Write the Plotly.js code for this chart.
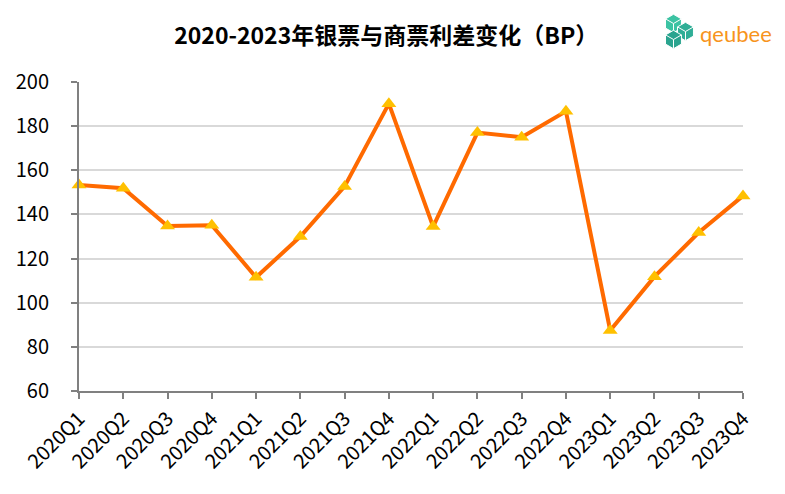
<!DOCTYPE html>
<html>
<head>
<meta charset="utf-8">
<script src="https://cdn.plot.ly/plotly-3.0.1.min.js"></script>
<style>html,body{margin:0;padding:0;background:#fff;}#chart{width:785px;height:494px;}</style>
</head>
<body>
<div id="chart"></div>
<script>
const quarters = ["2020Q1","2020Q2","2020Q3","2020Q4","2021Q1","2021Q2","2021Q3","2021Q4","2022Q1","2022Q2","2022Q3","2022Q4","2023Q1","2023Q2","2023Q3","2023Q4"];
const spreadBP = [153.3,151.9,134.8,135.1,111.5,130.0,152.7,190.2,134.5,177.1,175.0,186.7,87.4,111.8,131.8,148.4];
const yTicks = [60,80,100,120,140,160,180,200];

const W = 785, H = 494, L = 79, R = 743, T = 82, B = 391;
function px(x){ return (x - L) / (R - L); }
function py(y){ return (B - y) / (B - T); }

// decorative logo cubes (pixel space -> paper)
function hexShapes(cx, cy, r, color){
  const pts = [];
  for (let i = 0; i < 6; i++){
    const a = Math.PI/180 * (90 + 60*i);
    pts.push([cx + r*Math.cos(a), cy - r*Math.sin(a)]);
  }
  let d = 'M' + pts.map(p => px(p[0]).toFixed(4) + ',' + py(p[1]).toFixed(4)).join(' L') + ' Z';
  const s = [{type:'path', xref:'paper', yref:'paper', path:d, fillcolor:color, line:{color:'#ffffff', width:1}, layer:'above'}];
  [3,1,5].forEach(k => {
    s.push({type:'line', xref:'paper', yref:'paper', x0:px(cx), y0:py(cy), x1:px(pts[k][0]), y1:py(pts[k][1]), line:{color:'#ffffff', width:1}, layer:'above'});
  });
  return s;
}
const shapes = [].concat(
  hexShapes(673.5, 23.5, 9.2, '#3cc3a3'),
  hexShapes(685.5, 31.5, 9.2, '#2fae96'),
  hexShapes(673.5, 39.5, 9.2, '#2aa48f')
);

const trace = {
  x: quarters,
  y: spreadBP,
  type: 'scatter',
  mode: 'lines+markers',
  line: {color: '#ff6a00', width: 4},
  marker: {symbol: 'triangle-up', size: 13, color: '#ffc000', line: {width: 0}},
  hoverinfo: 'x+y',
  cliponaxis: false
};

const FONT = '"Noto Sans CJK SC", "Noto Sans", sans-serif';
const layout = {
  width: W, height: H,
  margin: {l: L, r: W - R, t: T, b: H - B, pad: 0},
  paper_bgcolor: '#ffffff',
  plot_bgcolor: '#ffffff',
  showlegend: false,
  title: {
    text: '<b>2020-2023年银票与商票利差变化（BP）</b>',
    font: {family: FONT, size: 23, color: '#000000'},
    xref: 'container', x: 0.492, xanchor: 'center',
    yref: 'container', y: 1 - 36/494, yanchor: 'middle'
  },
  xaxis: {
    type: 'category',
    range: [0, quarters.length - 1],
    showgrid: false,
    showline: true, linecolor: '#808080', linewidth: 2,
    ticks: 'outside', ticklen: 6, tickwidth: 2, tickcolor: '#808080',
    tickangle: -45,
    tickfont: {family: FONT, size: 20, color: '#000000'},
    zeroline: false,
    fixedrange: true
  },
  yaxis: {
    range: [60, 200],
    tickvals: yTicks,
    ticktext: yTicks.map(String),
    showgrid: true, gridcolor: '#d9d9d9', gridwidth: 2,
    showline: true, linecolor: '#808080', linewidth: 2,
    ticks: 'outside', ticklen: 6, tickwidth: 2, tickcolor: '#808080',
    tickfont: {family: FONT, size: 20, color: '#000000'},
    ticklabelstandoff: 18,
    zeroline: false,
    fixedrange: true
  },
  shapes: shapes,
  annotations: [{
    text: 'qeubee',
    xref: 'paper', yref: 'paper',
    x: px(698), y: py(33),
    xanchor: 'left', yanchor: 'middle',
    showarrow: false,
    font: {family: 'Lato, "Noto Sans", sans-serif', size: 22, color: '#f7941d'}
  }]
};

Plotly.newPlot('chart', [trace], layout, {displayModeBar: false, staticPlot: true});
</script>
</body>
</html>
